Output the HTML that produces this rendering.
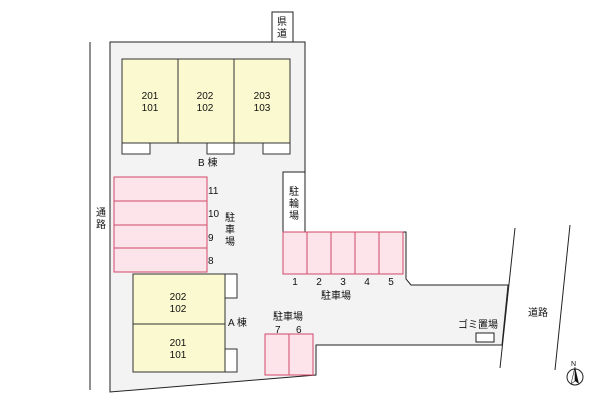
<!DOCTYPE html><html><head><meta charset="utf-8"><style>body{margin:0;background:#fff}svg{display:block}text{font-family:"Liberation Sans","Noto Sans CJK JP",sans-serif;font-size:10px;fill:#111}</style></head><body>
<svg width="600" height="400" viewBox="0 0 600 400">
<polygon points="110,42 305,42 305,232 406,232 406,279 411,285 508,285 502,345 316,345 316,375 110,392" fill="#f3f3f4" stroke="#222" stroke-width="1"/>
<line x1="90" y1="42" x2="90" y2="390" stroke="#222"/>
<line x1="515" y1="228" x2="500" y2="368" stroke="#222"/>
<line x1="570" y1="225" x2="555" y2="370" stroke="#222"/>
<rect x="272" y="12" width="21" height="30" fill="#fff" stroke="#222"/>
<text x="277" y="25">県</text><text x="277" y="37">道</text>
<g fill="#fbf9cf" stroke="#333"><rect x="122" y="59" width="168" height="84"/><line x1="178" y1="59" x2="178" y2="143"/><line x1="234" y1="59" x2="234" y2="143"/></g>
<g fill="#fff" stroke="#333"><rect x="122" y="143" width="28" height="11"/><rect x="207" y="143" width="27" height="11"/><rect x="263" y="143" width="27" height="11"/></g>
<g text-anchor="middle"><text x="150" y="99">201</text><text x="150" y="111">101</text><text x="205" y="99">202</text><text x="205" y="111">102</text><text x="262" y="99">203</text><text x="262" y="111">103</text></g>
<text x="198" y="166">B 棟</text>
<g fill="#fde3ea" stroke="#d04a68"><rect x="114" y="177" width="93" height="24"/><rect x="114" y="201" width="93" height="24"/><rect x="114" y="225" width="93" height="23"/><rect x="114" y="248" width="93" height="24"/></g>
<text x="208" y="194">11</text><text x="208" y="217">10</text><text x="208" y="241">9</text><text x="208" y="264">8</text>
<text x="225" y="221">駐</text><text x="225" y="233">車</text><text x="225" y="245">場</text>
<text x="96" y="216">通</text><text x="96" y="228">路</text>
<rect x="283" y="172" width="22" height="60" fill="#fff" stroke="#222"/>
<text x="289" y="195">駐</text><text x="289" y="207">輪</text><text x="289" y="219">場</text>
<g fill="#fde3ea" stroke="#d04a68"><rect x="283" y="232" width="24" height="42"/><rect x="307" y="232" width="24" height="42"/><rect x="331" y="232" width="24" height="42"/><rect x="355" y="232" width="24" height="42"/><rect x="379" y="232" width="24" height="42"/></g>
<g text-anchor="middle"><text x="295" y="285">1</text><text x="319" y="285">2</text><text x="343" y="285">3</text><text x="367" y="285">4</text><text x="391" y="285">5</text></g>
<text x="321" y="299">駐車場</text>
<g fill="#fbf9cf" stroke="#333"><rect x="133" y="274" width="92" height="98"/><line x1="133" y1="324" x2="225" y2="324"/></g>
<g fill="#fff" stroke="#333"><rect x="225" y="274" width="12" height="24"/><rect x="225" y="349" width="12" height="23"/></g>
<g text-anchor="middle"><text x="178" y="300">202</text><text x="178" y="312">102</text><text x="178" y="346">201</text><text x="178" y="358">101</text></g>
<text x="228" y="326">A 棟</text>
<text x="273" y="320">駐車場</text><text x="275" y="333">7</text><text x="296" y="333">6</text>
<g fill="#fde3ea" stroke="#d04a68"><rect x="265" y="334" width="24" height="41"/><rect x="289" y="334" width="24" height="41"/></g>
<text x="458" y="328">ゴミ置場</text>
<rect x="476" y="333" width="18" height="9" fill="#fff" stroke="#222"/>
<text x="528" y="316">道路</text>
<text x="571" y="366" style="font-size:7px">N</text>
<circle cx="575" cy="377" r="8" fill="#fff" stroke="#222"/>
<polygon points="575,367 571,384 575,381" fill="#fff" stroke="#222" stroke-width=".6"/>
<polygon points="575,367 579,384 575,381" fill="#111"/>
</svg></body></html>
